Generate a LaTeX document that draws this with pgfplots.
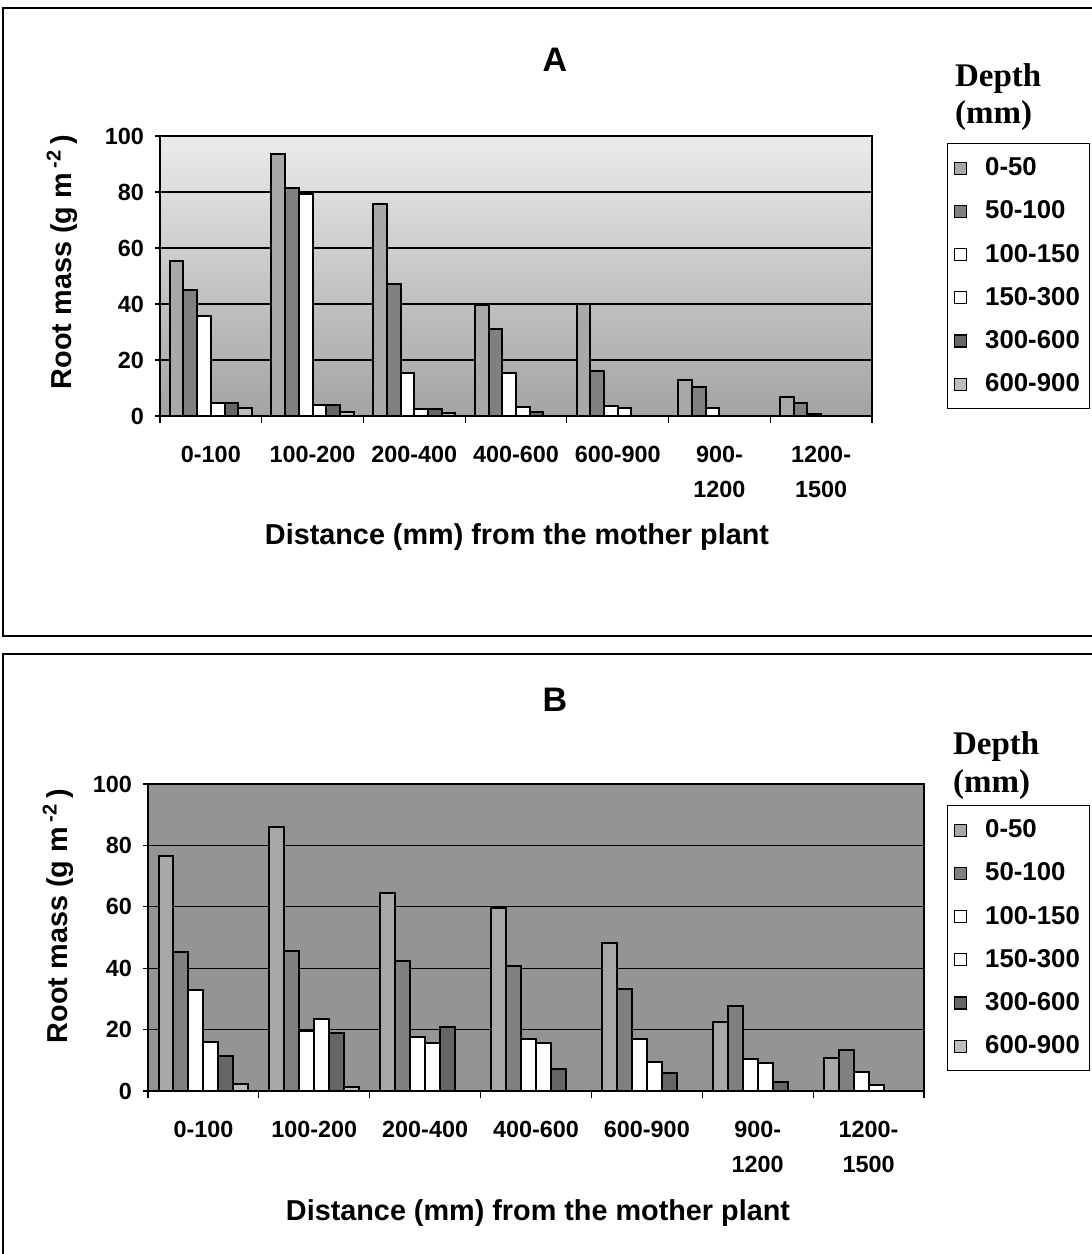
\documentclass[border=0pt]{standalone}
\usepackage{pgfplots}
\pgfplotsset{compat=1.18}
\usepackage{fontspec}
\setmainfont{Liberation Sans}
\newfontfamily\timesfont{Liberation Serif}

\definecolor{sA}{gray}{0.66}
\definecolor{sB}{gray}{0.50}
\definecolor{sE}{gray}{0.40}
\definecolor{sF}{gray}{0.74}

\pgfplotstableread{
x s1 s2 s3 s4 s5 s6
0 55.5 44.9 35.7 4.5 4.5 3.0
1 93.6 81.3 79.3 4.0 4.0 1.3
2 75.6 47.0 15.5 2.5 2.5 1.0
3 39.8 31.0 15.2 3.1 1.3 0
4 40.0 16.2 3.6 2.8 0 0
5 12.9 10.5 2.7 0 0 0
6 6.9 4.5 0.7 0 0 0
}\dataA

\pgfplotstableread{
x s1 s2 s3 s4 s5 s6
0 76.5 45.2 32.9 15.9 11.5 2.3
1 86.1 45.7 19.7 23.6 19.0 1.2
2 64.4 42.3 17.7 15.5 20.7 0
3 59.7 40.8 16.8 15.5 7.3 0
4 48.3 33.1 16.8 9.6 5.8 0
5 22.6 27.7 10.4 9.0 3.0 0
6 10.9 13.4 6.3 2.0 0 0
}\dataB

\pgfplotsset{
  rootstyle/.style={
    scale only axis,
    ybar,
    bar width=0.135,
    xmin=-0.5, xmax=6.5, ymin=0, ymax=100,
    ytick={0,20,...,100},
    xtick={0,...,6},
    xticklabels={0-100,100-200,200-400,400-600,600-900,{900-\\1200},{1200-\\1500}},
    minor xtick={-0.5,0.5,...,6.5},
    xtick pos=bottom, ytick pos=left,
    tick align=outside,
    major x tick style={draw=none},
    minor tick length=3.5pt,
    major tick length=2.5pt,
    tick style={black, line width=0.6pt},
    ymajorgrids,
    major grid style={black, line width=0.6pt},
    axis line style={black, line width=0.7pt},
    /pgf/number format/assume math mode=true,
    tick label style={font=\fontsize{11.7}{17.5}\selectfont\bfseries},
    xticklabel style={align=center, yshift=-9pt},
    yticklabel style={xshift=-2pt},
    legend cell align=left,
    legend image code/.code={\draw[##1,line width=0.6pt] (0pt,-3pt) rectangle (6pt,3pt); \path[draw=none,fill=none] (0pt,0pt) -- (13.5pt,0pt);},
    every axis plot/.append style={draw=black, line width=1pt},
    legend style={draw=black, line width=0.6pt, fill=white,
      font=\fontsize{12.9}{15}\selectfont\bfseries, row sep=7.1pt,
      inner xsep=3pt, inner ysep=5pt},
  }
}

\begin{document}
\begin{tikzpicture}
\useasboundingbox (0,0) rectangle (546pt,-627pt);
\fill[white] (0,0) rectangle (546pt,-627pt);
% panel frames
\draw[black, line width=0.8pt] (546pt,-4pt) -- (1.5pt,-4pt) -- (1.5pt,-318pt) -- (546pt,-318pt);
\draw[black, line width=0.8pt] (546pt,-327pt) -- (1.5pt,-327pt) -- (1.5pt,-627pt);

% ---------- Panel A ----------
\begin{axis}[rootstyle,
  at={(80pt,-208pt)}, anchor=south west,
  width=356pt, height=140pt,
  axis background/.style={top color=black!8, bottom color=black!36},
  legend style={at={(1,1)}, anchor=north west, xshift=37.5pt, yshift=-3.5pt},
]
\addplot[fill=sA, bar shift=-0.3375] table[x=x,y=s1]{\dataA};
\addplot[fill=sB, bar shift=-0.2025] table[x=x,y=s2]{\dataA};
\addplot[fill=white, bar shift=-0.0675] table[x=x,y=s3]{\dataA};
\addplot[fill=white, bar shift=0.0675] table[x=x,y=s4]{\dataA};
\addplot[fill=sE, bar shift=0.2025] table[x=x,y=s5]{\dataA};
\addplot[fill=sF, bar shift=0.3375] table[x=x,y=s6]{\dataA};
\legend{0-50,50-100,100-150,150-300,300-600,600-900}
\end{axis}
\node[font=\fontsize{17}{20}\selectfont\bfseries] at (277.5pt,-30pt) {A};
\node[font=\timesfont\fontsize{16.5}{20}\selectfont\bfseries, anchor=west] at (474pt,-39.5pt) {Depth};
\node[font=\timesfont\fontsize{16.5}{20}\selectfont\bfseries, anchor=west] at (474pt,-58pt) {(mm)};
\node[font=\fontsize{14.4}{17}\selectfont\bfseries] at (258.5pt,-268.5pt) {Distance (mm) from the mother plant};
\node[font=\fontsize{14.4}{17}\selectfont\bfseries, rotate=90] at (31pt,-131pt) {Root mass (g m\,\textsuperscript{-2}\,)};

% ---------- Panel B ----------
\begin{axis}[rootstyle,
  at={(74pt,-545.5pt)}, anchor=south west,
  width=388pt, height=153.5pt,
  axis background/.style={fill=black!42},
  legend style={at={(1,1)}, anchor=north west, xshift=11.5pt, yshift=-10.5pt},
]
\addplot[fill=sA, bar shift=-0.3375] table[x=x,y=s1]{\dataB};
\addplot[fill=sB, bar shift=-0.2025] table[x=x,y=s2]{\dataB};
\addplot[fill=white, bar shift=-0.0675] table[x=x,y=s3]{\dataB};
\addplot[fill=white, bar shift=0.0675] table[x=x,y=s4]{\dataB};
\addplot[fill=sE, bar shift=0.2025] table[x=x,y=s5]{\dataB};
\addplot[fill=sF, bar shift=0.3375] table[x=x,y=s6]{\dataB};
\legend{0-50,50-100,100-150,150-300,300-600,600-900}
\end{axis}
\node[font=\fontsize{17}{20}\selectfont\bfseries] at (277.5pt,-350pt) {B};
\node[font=\timesfont\fontsize{16.5}{20}\selectfont\bfseries, anchor=west] at (473pt,-373.5pt) {Depth};
\node[font=\timesfont\fontsize{16.5}{20}\selectfont\bfseries, anchor=west] at (473pt,-392.5pt) {(mm)};
\node[font=\fontsize{14.4}{17}\selectfont\bfseries] at (269pt,-606.5pt) {Distance (mm) from the mother plant};
\node[font=\fontsize{14.4}{17}\selectfont\bfseries, rotate=90] at (29pt,-458pt) {Root mass (g m\,\textsuperscript{-2}\,)};
\end{tikzpicture}
\end{document}
